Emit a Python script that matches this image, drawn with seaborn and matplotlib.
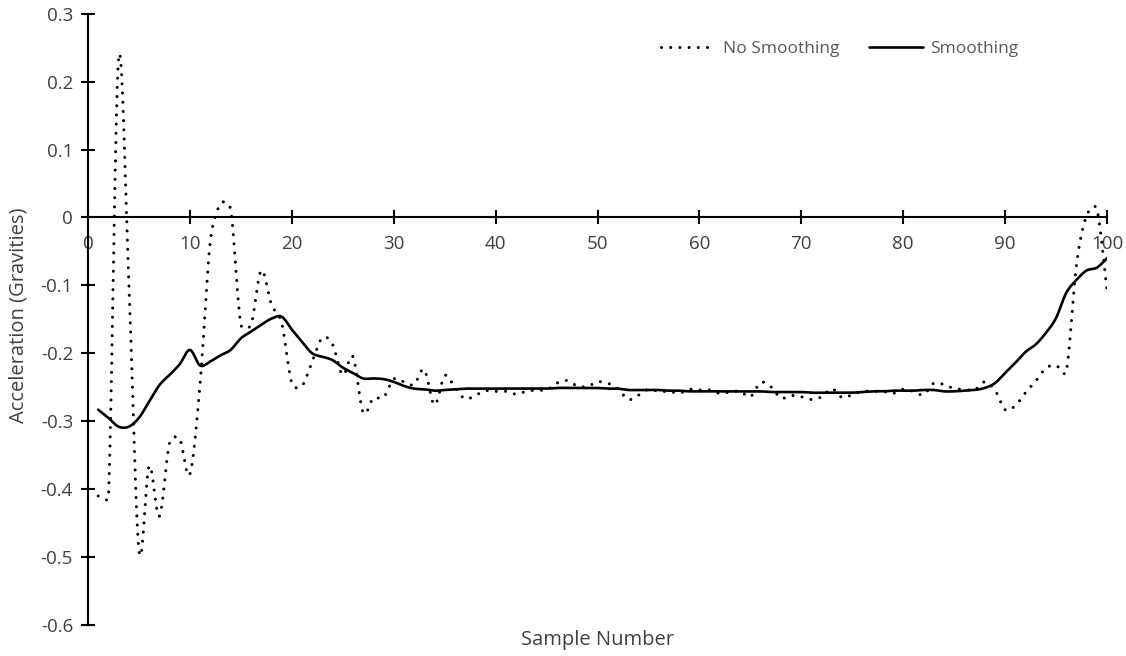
import numpy as np
import pandas as pd
import matplotlib
matplotlib.use("Agg")
import matplotlib.pyplot as plt
import seaborn as sns

# Sample index and acceleration readings (gravities)
sample_number = list(range(1, 101))

no_smoothing = [
    -0.410, -0.413, 0.234, -0.090, -0.490, -0.366, -0.440, -0.332, -0.326, -0.378,
    -0.245, -0.035, 0.020, 0.012, -0.158, -0.158, -0.078, -0.128, -0.155, -0.244,
    -0.248, -0.212, -0.177, -0.187, -0.232, -0.205, -0.287, -0.266, -0.265, -0.238,
    -0.242, -0.246, -0.224, -0.276, -0.233, -0.250, -0.267, -0.262, -0.255, -0.256,
    -0.256, -0.260, -0.256, -0.254, -0.254, -0.244, -0.240, -0.248, -0.249, -0.242,
    -0.244, -0.252, -0.268, -0.262, -0.253, -0.256, -0.256, -0.259, -0.253, -0.254,
    -0.254, -0.259, -0.257, -0.256, -0.264, -0.243, -0.249, -0.266, -0.262, -0.264,
    -0.268, -0.264, -0.252, -0.265, -0.261, -0.256, -0.256, -0.256, -0.259, -0.253,
    -0.256, -0.261, -0.244, -0.246, -0.252, -0.253, -0.254, -0.242, -0.254, -0.283,
    -0.277, -0.258, -0.241, -0.222, -0.218, -0.228, -0.070, 0.003, 0.013, -0.108,
]

smoothing = [
    -0.283, -0.295, -0.308, -0.308, -0.295, -0.271, -0.247, -0.232, -0.216, -0.195,
    -0.218, -0.212, -0.203, -0.195, -0.178, -0.168, -0.158, -0.149, -0.146, -0.165,
    -0.183, -0.200, -0.205, -0.210, -0.221, -0.229, -0.237, -0.237, -0.238, -0.242,
    -0.248, -0.252, -0.253, -0.255, -0.254, -0.253, -0.252, -0.252, -0.252, -0.252,
    -0.252, -0.252, -0.252, -0.252, -0.252, -0.251, -0.251, -0.251, -0.251, -0.251,
    -0.252, -0.252, -0.254, -0.254, -0.254, -0.254, -0.255, -0.255, -0.256, -0.256,
    -0.256, -0.256, -0.256, -0.256, -0.256, -0.256, -0.257, -0.257, -0.257, -0.257,
    -0.258, -0.258, -0.258, -0.258, -0.258, -0.257, -0.256, -0.256, -0.255, -0.255,
    -0.255, -0.254, -0.254, -0.256, -0.256, -0.255, -0.254, -0.251, -0.244, -0.229,
    -0.214, -0.198, -0.187, -0.170, -0.148, -0.111, -0.092, -0.078, -0.074, -0.060,
]

x_ticks = list(range(0, 101, 10))
y_ticks = [-0.6, -0.5, -0.4, -0.3, -0.2, -0.1, 0.0, 0.1, 0.2, 0.3]


def smooth_curve(x, y, y_aspect=66.0, clamp=0.5, steps=24):
    """Bezier curve through every point with handles (P[i+1] - P[i-1]) / 6;
    a handle is shortened to at most `clamp` times the chord of its segment
    (lengths measured with y scaled by y_aspect) so flat runs next to steep
    jumps stay flat."""
    x = np.asarray(x, float)
    ys = np.asarray(y, float) * y_aspect
    px = np.concatenate([[x[0]], x, [x[-1]]])
    py = np.concatenate([[ys[0]], ys, [ys[-1]]])
    hx = (px[2:] - px[:-2]) / 6.0          # handle at every point
    hy = (py[2:] - py[:-2]) / 6.0
    hl = np.hypot(hx, hy)
    chord = np.hypot(np.diff(x), np.diff(ys))

    def scaled(i, seg):
        lim = clamp * chord[seg]
        f = np.where(hl[i] > lim, lim / np.maximum(hl[i], 1e-12), 1.0)
        return hx[i] * f, hy[i] * f

    idx = np.arange(len(x) - 1)
    ax1, ay1 = scaled(idx, idx)
    ax2, ay2 = scaled(idx + 1, idx)
    p1x, p1y = x[:-1], ys[:-1]
    p2x, p2y = x[1:], ys[1:]
    c1x, c1y = p1x + ax1, p1y + ay1
    c2x, c2y = p2x - ax2, p2y - ay2
    t = np.linspace(0.0, 1.0, steps, endpoint=False)[:, None]
    b0, b1, b2, b3 = (1 - t) ** 3, 3 * (1 - t) ** 2 * t, 3 * (1 - t) * t ** 2, t ** 3
    bx = (b0 * p1x + b1 * c1x + b2 * c2x + b3 * p2x).T.ravel()
    by = (b0 * p1y + b1 * c1y + b2 * c2y + b3 * p2y).T.ravel()
    return np.append(bx, x[-1]), np.append(by, ys[-1]) / y_aspect


sns.set_theme(style="white")
plt.rcParams["font.family"] = ["Open Sans", "DejaVu Sans"]
plt.rcParams["axes.unicode_minus"] = False

text_dark = "#404040"
legend_grey = "#595959"

fig = plt.figure(figsize=(11.26, 6.56), dpi=100)
ax = fig.add_axes([88 / 1126, 31 / 656, (1107 - 88) / 1126, (625 - 13.7) / 656])

rx, ry = smooth_curve(sample_number, no_smoothing)
sx, sy = smooth_curve(sample_number, smoothing)
raw_df = pd.DataFrame({"Sample": rx, "Accel": ry})
smooth_df = pd.DataFrame({"Sample": sx, "Accel": sy})

sns.lineplot(data=raw_df, x="Sample", y="Accel", sort=False, ax=ax, color="black",
             linewidth=2.2, label="No Smoothing",
             linestyle=(0, (0.01, 3.0)), dash_capstyle="round")
sns.lineplot(data=smooth_df, x="Sample", y="Accel", sort=False, ax=ax, color="black",
             linewidth=1.9, label="Smoothing", solid_capstyle="round")

ax.set_xlim(0, 100)
ax.set_ylim(-0.6, 0.3)
ax.set_xticks(x_ticks)
ax.set_xticklabels([str(v) for v in x_ticks])
ax.set_yticks(y_ticks)
ax.set_yticklabels(["0" if v == 0 else f"{v:.1f}" for v in y_ticks])

for side in ("top", "right"):
    ax.spines[side].set_visible(False)
ax.spines["bottom"].set_position(("data", 0))
ax.spines["left"].set_position(("data", 0))
for side in ("bottom", "left"):
    ax.spines[side].set_color("black")
    ax.spines[side].set_linewidth(1.5)

ax.tick_params(axis="both", which="major", bottom=True, left=True, top=False, right=False,
               direction="inout", length=9.5, width=1.5, color="black",
               labelsize=13.5, labelcolor=text_dark)
ax.tick_params(axis="x", pad=8)
ax.tick_params(axis="y", pad=6)
ax.grid(False)

ax.set_xlabel("")
ax.set_ylabel("")
fig.text((88 + 1107) / 2 / 1126, 1 - 640 / 656, "Sample Number", ha="center", va="center",
         fontsize=14.5, color=text_dark)
fig.text(19 / 1126, 1 - 315 / 656, "Acceleration (Gravities)", ha="center", va="center",
         rotation=90, fontsize=14.5, color=text_dark)

leg = ax.legend(loc="center", bbox_to_anchor=(0.738, 0.942), ncol=2, frameon=False,
                fontsize=12.5, handlelength=3.1, handletextpad=0.45, columnspacing=1.7,
                labelcolor=legend_grey)

fig.savefig("out.png", dpi=100)
